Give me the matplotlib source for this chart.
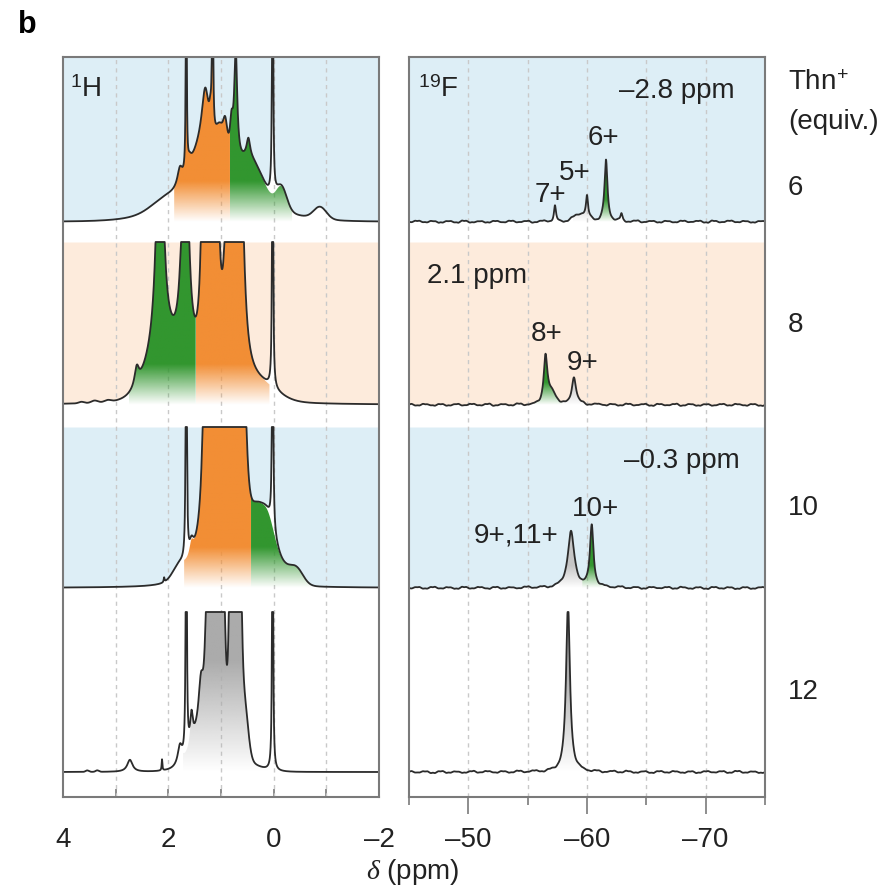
import numpy as np
import matplotlib
matplotlib.use('Agg')
import matplotlib.pyplot as plt
from matplotlib.colors import to_rgb
from matplotlib.patches import Polygon

plt.rcParams['font.family'] = ['Liberation Sans', 'DejaVu Sans']
plt.rcParams['mathtext.fontset'] = 'custom'
plt.rcParams['mathtext.rm'] = 'Liberation Sans'
plt.rcParams['mathtext.sf'] = 'Liberation Sans'
plt.rcParams['mathtext.it'] = 'Liberation Serif:italic'

# rows, top to bottom: Thn+ equivalents
EQUIV = ['6', '8', '10', '12']
ROW_BG = ['#ddeef6', '#fdebdc', '#ddeef6', '#ffffff']
BASE = [0.11, 0.12, 0.13, 0.135]   # baseline height inside each row (row = 1)

# peaks: (shape, ppm, height, width)   L = lorentzian (hwhm), G = gaussian (sigma)
# heights are fractions of one row; anything above the row top is clipped
H6_PEAKS = [('G', 1.0, 0.12, 0.9), ('G', 2.0, 0.07, 0.3), ('G', 1.35, 0.25, 0.22),
            ('L', 1.6, 0.05, 0.05), ('L', 1.78, 0.1, 0.06), ('L', 1.3, 0.3, 0.08),
            ('L', 1.2, 0.1, 0.03), ('L', 1.03, 0.22, 0.12), ('L', 0.92, 0.2, 0.06),
            ('L', 0.8, 0.2, 0.04), ('L', 0.72, 0.6, 0.035), ('G', 0.45, 0.22, 0.25),
            ('L', 0.48, 0.1, 0.04), ('G', -0.15, 0.12, 0.1), ('G', -0.88, 0.065, 0.12),
            ('L', 1.66, 3.0, 0.006), ('L', 1.16, 3.0, 0.006)]
H6_SHARP = [('L', 0.02, 3.0, 0.008)]
H6_FILLS = [(1.89, 0.83, 'orange'), (0.83, -0.35, 'green')]

H8_PEAKS = [('G', 3.65, 0.008, 0.05), ('G', 3.4, 0.012, 0.06), ('G', 3.15, 0.01, 0.06),
            ('G', 2.1, 0.25, 0.3), ('L', 2.6, 0.1, 0.05), ('L', 2.16, 1.5, 0.07),
            ('L', 1.68, 1.5, 0.07), ('L', 1.32, 2.0, 0.04), ('L', 1.2, 2.0, 0.04),
            ('L', 1.1, 2.0, 0.04), ('L', 0.86, 2.0, 0.04), ('L', 0.76, 2.0, 0.04),
            ('L', 0.64, 2.0, 0.04), ('L', 0.58, 0.2, 0.08), ('G', 1.0, 0.12, 0.45),
            ('G', 0.2, 0.06, 0.3)]
H8_SHARP = [('L', 0.02, 3.0, 0.008)]
H8_FILLS = [(2.75, 1.48, 'green'), (1.48, 0.08, 'orange')]

H10_PEAKS = [('G', 0.9, 0.22, 0.45), ('L', 1.28, 2.0, 0.045), ('L', 1.15, 2.0, 0.045),
             ('L', 1.02, 2.0, 0.045), ('L', 0.78, 2.0, 0.045), ('L', 0.65, 2.0, 0.045),
             ('L', 0.55, 0.5, 0.06), ('L', 1.56, 0.08, 0.05), ('G', 1.8, 0.06, 0.12),
             ('L', 2.08, 0.025, 0.01), ('G', 0.14, 0.3, 0.15), ('G', 0.35, 0.12, 0.1),
             ('G', -0.2, 0.08, 0.2), ('G', -0.45, 0.06, 0.12)]
H10_SHARP = [('L', 1.66, 3.0, 0.008), ('L', 0.02, 3.0, 0.008)]
H10_FILLS = [(1.70, 0.43, 'orange'), (0.43, -0.75, 'green')]

H12_PEAKS = [('G', 1.0, 0.15, 0.4), ('G', 1.105, 5.0, 0.09), ('G', 0.73, 5.0, 0.06),
             ('L', 1.38, 0.3, 0.06), ('G', 1.45, 0.1, 0.15), ('L', 1.56, 0.15, 0.03),
             ('L', 1.78, 0.1, 0.05), ('G', 0.56, 0.3, 0.07), ('L', 2.73, 0.065, 0.06),
             ('L', 2.12, 0.06, 0.008), ('G', 3.54, 0.008, 0.03), ('G', 3.35, 0.008, 0.03)]
H12_SHARP = [('L', 1.66, 3.0, 0.008), ('L', 0.02, 3.0, 0.008)]
H12_FILLS = [(1.72, 0.12, 'gray')]

F6_PEAKS = [('L', -57.3, 0.085, 0.1), ('L', -60.0, 0.11, 0.1), ('G', -59.5, 0.04, 0.6),
            ('L', -61.6, 0.33, 0.15), ('L', -62.9, 0.04, 0.1)]
F6_FILLS = [(-58.8, -61.05, 'lightgray'), (-61.05, -62.4, 'green')]
F8_PEAKS = [('L', -56.5, 0.25, 0.18), ('G', -57.0, 0.06, 0.4), ('L', -58.9, 0.15, 0.22)]
F8_FILLS = [(-55.6, -57.9, 'green'), (-57.9, -60.0, 'lightgray')]
F10_PEAKS = [('L', -58.65, 0.3, 0.33), ('L', -60.4, 0.33, 0.18)]
F10_FILLS = [(-57.6, -59.6, 'lightgray'), (-59.6, -61.4, 'green')]
F12_PEAKS = [('L', -58.4, 0.9, 0.2)]
F12_FILLS = [(-57.4, -59.4, 'gray')]

# baseline wiggles of the 19F traces (row units), spread evenly over the window
F_NOISE = [0.004, -0.005, 0.003, -0.004, 0.006, -0.003, 0.004, -0.006, 0.005, -0.002,
           0.005, -0.004, 0.003, -0.005, 0.004, -0.003, 0.006, -0.004, 0.002, -0.004,
           0.005, -0.006, 0.004, -0.003, 0.005, -0.005, 0.003, -0.004, 0.006, -0.004,
           0.005, -0.003, 0.005, -0.004, 0.004, -0.005, 0.003, -0.004, 0.005, -0.006,
           0.004, -0.005, 0.003, -0.004, 0.005, -0.003]

# F labels: (text, x ppm, y in row units from row bottom, ha)
F_LABELS = [[('\u20132.8 ppm', -62.7, 0.82, 'left'), ('6+', -61.4, 0.57, 'center'),
             ('5+', -59.0, 0.38, 'center'), ('7+', -56.9, 0.26, 'center')],
            [('2.1 ppm', -46.5, 0.82, 'left'), ('8+', -56.6, 0.51, 'center'),
             ('9+', -59.6, 0.35, 'center')],
            [('\u20130.3 ppm', -63.1, 0.82, 'left'), ('10+', -60.7, 0.56, 'center'),
             ('9+,11+', -57.6, 0.42, 'right')],
            []]

COLORS = {'orange': '#f28e35', 'green': '#32962f', 'gray': '#ababab', 'lightgray': '#c6c6c6'}
LINE = '#2b2b2b'
SPINE = '#7a7a7a'
GRID = '#c9c9c9'


def spectrum(x, peaks):
    y = np.zeros_like(x)
    for kind, c, h, w in peaks:
        if kind == 'L':
            y += h / (1 + ((x - c) / w) ** 2)
        else:
            y += h * np.exp(-0.5 * ((x - c) / w) ** 2)
    return y


def wiggles(x, amps, shift):
    a = np.roll(amps, shift)
    a2 = -np.array(a[::-1])
    step = (x.max() - x.min() - 0.4) / (len(a) - 1)
    pos = np.linspace(x.min() + 0.2, x.max() - 0.2, len(a))
    bumps = [('G', p, v, 0.11) for p, v in zip(pos, a)]
    bumps += [('G', p + step / 2, v, 0.11) for p, v in zip(pos[:-1], a2[:-1])]
    return spectrum(x, bumps)


def gradient_fill(ax, x, y, base, x0, x1, cname, fade):
    m = (x <= max(x0, x1)) & (x >= min(x0, x1))
    xs, ys = x[m], y[m]
    verts = np.column_stack([np.r_[xs, xs[::-1]], np.r_[ys, np.full(xs.size, base)]])
    clip = Polygon(verts, closed=True, fc='none', ec='none')
    ax.add_patch(clip)
    top = ys.max()
    t = np.linspace(0, top - base, 200)
    img = np.ones((200, 1, 4))
    img[..., :3] = to_rgb(COLORS[cname])
    img[:, 0, 3] = np.clip(t / fade, 0, 1)
    im = ax.imshow(img, extent=[xs.min(), xs.max(), base, top], origin='lower',
                   aspect='auto', interpolation='bilinear', zorder=3)
    im.set_clip_path(clip)


def draw_rows(ax, x, rows, fades, noise=None):
    for i, (peaks, sharp, fills) in enumerate(rows):
        bottom = 3 - i
        base = bottom + BASE[i]
        cap = bottom + 1 - base
        body = spectrum(x, peaks)
        if noise is not None:
            body = body + wiggles(x, noise, 7 * i)
        full = np.minimum(body + spectrum(x, sharp), cap) + base
        body = np.minimum(body, cap) + base
        ax.axhspan(bottom, bottom + 1, color=ROW_BG[i], lw=0, zorder=0)
        ax.fill_between(x, bottom, full, color='white', lw=0, zorder=1)
        for x0, x1, cname in fills:
            gradient_fill(ax, x, body, base, x0, x1, cname, fades[cname])
        ax.plot(x, full, color=LINE, lw=1.3, zorder=4, solid_joinstyle='round')


fig = plt.figure(figsize=(8.96, 8.95), dpi=100)
axH = fig.add_axes([63 / 896, 1 - 798 / 895, 316 / 896, 740 / 895])
axF = fig.add_axes([409 / 896, 1 - 798 / 895, 356 / 896, 740 / 895])

xH = np.linspace(4, -2, 6001)
xF = np.linspace(-45, -75, 4001)

draw_rows(axH, xH,
          [(H6_PEAKS, H6_SHARP, H6_FILLS), (H8_PEAKS, H8_SHARP, H8_FILLS),
           (H10_PEAKS, H10_SHARP, H10_FILLS), (H12_PEAKS, H12_SHARP, H12_FILLS)],
          {'orange': 0.22, 'green': 0.22, 'gray': 0.6})
draw_rows(axF, xF,
          [(F6_PEAKS, [], F6_FILLS), (F8_PEAKS, [], F8_FILLS),
           (F10_PEAKS, [], F10_FILLS), (F12_PEAKS, [], F12_FILLS)],
          {'green': 0.12, 'lightgray': 0.12, 'gray': 0.55}, noise=F_NOISE)

for gx in [3, 2, 1, 0, -1]:
    axH.axvline(gx, color=GRID, lw=1, ls=(0, (3, 3)), zorder=2)
for gx in [-50, -55, -60, -65, -70]:
    axF.axvline(gx, color=GRID, lw=1, ls=(0, (3, 3)), zorder=2)

for i, labels in enumerate(F_LABELS):
    for txt, px, py, ha in labels:
        axF.text(px, 3 - i + py, txt, ha=ha, va='center', fontsize=20, color='#222222', zorder=5)

axH.set_xlim(4, -2)
axH.set_ylim(0, 4)
axH.set_xticks([4, 2, 0, -2])
axH.set_xticklabels(['4', '2', '0', '\u20132'])
axH.set_xticks([3, 1, -1], minor=True)
axH.tick_params(axis='x', which='both', direction='in', length=6, width=1.2,
                color=SPINE, pad=21, labelsize=20, labelcolor='#222222')

axF.set_xlim(-45, -75)
axF.set_ylim(0, 4)
axF.set_xticks([-50, -60, -70])
axF.set_xticklabels(['\u201350', '\u201360', '\u201370'])
axF.set_xticks([-45, -55, -65, -75], minor=True)
axF.tick_params(axis='x', which='major', direction='out', length=12, width=1.2,
                color=SPINE, pad=9, labelsize=20, labelcolor='#222222')
axF.tick_params(axis='x', which='minor', direction='out', length=6, width=1.2, color=SPINE)

for ax in (axH, axF):
    ax.set_yticks([])
    for s in ax.spines.values():
        s.set_color(SPINE)
        s.set_linewidth(1.5)
        s.set_zorder(6)


def fx(px):
    return px / 896


def fy(py):
    return 1 - py / 895


fig.text(fx(18), fy(25), 'b', fontsize=22, fontweight='bold', va='center', ha='left')
fig.text(fx(70), fy(90), r'$^{1}$H', fontsize=20, va='center', ha='left', color='#222222')
fig.text(fx(418), fy(90), r'$^{19}$F', fontsize=20, va='center', ha='left', color='#222222')
fig.text(fx(788), fy(83), r'Thn$^{+}$', fontsize=20, va='center', ha='left', color='#222222')
fig.text(fx(788), fy(122), '(equiv.)', fontsize=20, va='center', ha='left', color='#222222')
for lab, py in zip(EQUIV, [188, 325, 508, 692]):
    fig.text(fx(788), fy(py), lab, fontsize=20, va='center', ha='left', color='#222222')
fig.text(fx(413), fy(872), r'$\delta$ (ppm)', fontsize=20, va='center', ha='center', color='#222222')

fig.savefig('out.png', dpi=100)
